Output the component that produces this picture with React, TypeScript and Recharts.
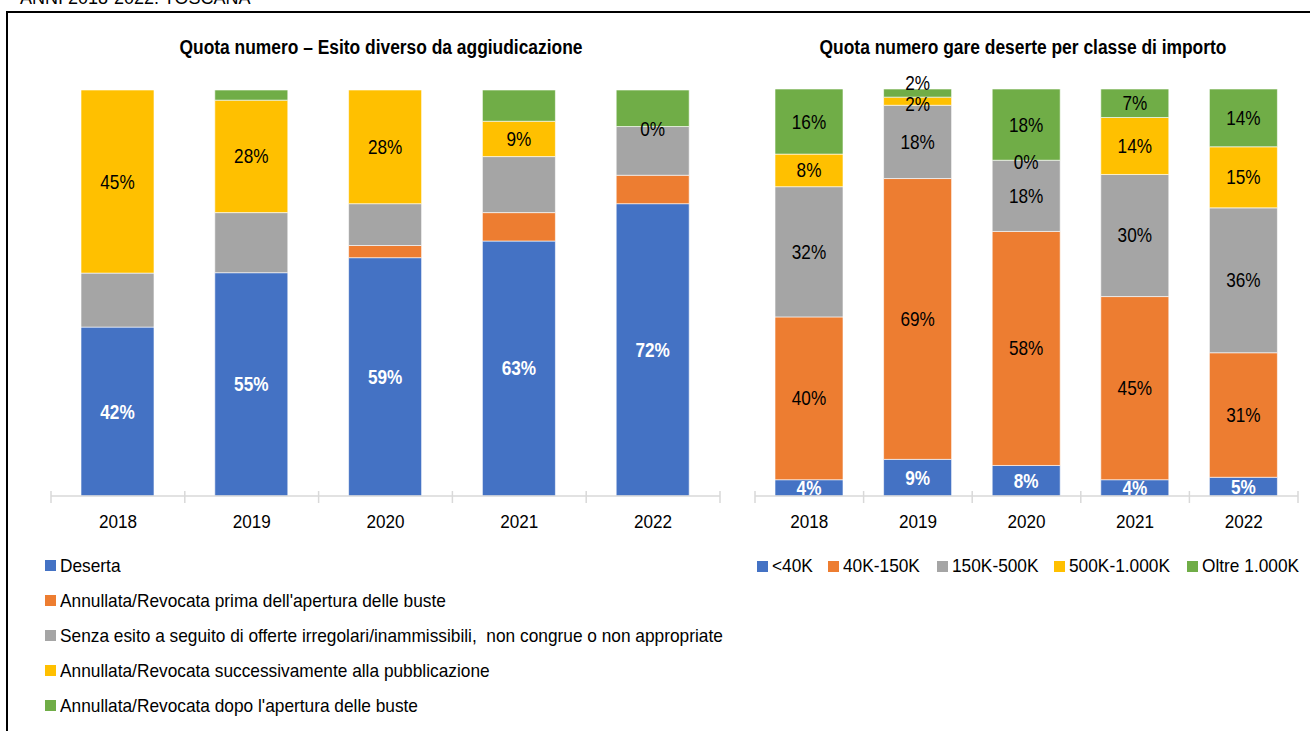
import React from 'react';
import { BarChart, Bar, XAxis, YAxis, LabelList } from 'recharts';

// categories
const years = ['2018', '2019', '2020', '2021', '2022'];

// left chart: quota numero, esito diverso da aggiudicazione (%)
const deserta = [41.6, 55, 58.7, 62.8, 72];
const primaApertura = [0, 0, 3, 7, 7];
const senzaEsito = [13.3, 14.8, 10.3, 13.8, 12];
const successivamente = [45.1, 27.7, 28, 8.7, 0];
const dopoApertura = [0, 2.5, 0, 7.7, 9];

// right chart: quota gare deserte per classe di importo (%)
const fino40 = [4, 9, 7.5, 4, 4.6];
const da40a150 = [40, 69, 57.5, 45, 30.6];
const da150a500 = [32, 18, 17.5, 30, 35.6];
const da500a1000 = [8, 2, 0, 14, 15];
const oltre1000 = [16, 2, 17.5, 7, 14.2];

const BLUE = '#4472C4';
const ORANGE = '#ED7D31';
const GREY = '#A5A5A5';
const YELLOW = '#FFC000';
const GREEN = '#70AD47';

// no Arial Narrow here, so squeeze Liberation Sans horizontally
const FONT = '"Liberation Sans", Arial, sans-serif';

type Series = { key: string; name: string; color: string; label: string | null; values: number[] };

const leftSeries: Series[] = [
  { key: 'deserta', name: 'Deserta', color: BLUE, label: 'white', values: deserta },
  { key: 'prima', name: "Annullata/Revocata prima dell'apertura delle buste", color: ORANGE, label: null, values: primaApertura },
  { key: 'senza', name: 'Senza esito a seguito di offerte irregolari/inammissibili,  non congrue o non appropriate', color: GREY, label: null, values: senzaEsito },
  { key: 'succ', name: 'Annullata/Revocata successivamente alla pubblicazione', color: YELLOW, label: 'black', values: successivamente },
  { key: 'dopo', name: "Annullata/Revocata dopo l'apertura delle buste", color: GREEN, label: null, values: dopoApertura },
];

const rightSeries: Series[] = [
  { key: 'k40', name: '<40K', color: BLUE, label: 'white', values: fino40 },
  { key: 'k150', name: '40K-150K', color: ORANGE, label: 'black', values: da40a150 },
  { key: 'k500', name: '150K-500K', color: GREY, label: 'black', values: da150a500 },
  { key: 'k1000', name: '500K-1.000K', color: YELLOW, label: 'black', values: da500a1000 },
  { key: 'oltre', name: 'Oltre 1.000K', color: GREEN, label: 'black', values: oltre1000 },
];
// left edge of each legend swatch in the right chart legend
const rightLegendX = [757, 828, 937, 1054, 1187];

const toRows = (series: Series[]) =>
  years.map((y, i) => {
    const row: any = { year: y };
    series.forEach((s) => (row[s.key] = s.values[i]));
    return row;
  });

const leftData = toRows(leftSeries);
const rightData = toRows(rightSeries);

const NarrowText = ({ x, y, sx, size, bold, fill, children }: any) => (
  <text
    transform={`translate(${x},${y}) scale(${sx},1)`}
    textAnchor="middle"
    dominantBaseline="central"
    fill={fill}
    fontFamily={FONT}
    fontSize={size}
    fontWeight={bold ? 700 : 400}
  >
    {children}
  </text>
);

// label for a segment; zero-height segments are labelled by the series above,
// otherwise the next bar would paint over the "0%"
// (LabelList value is the year, since zero bars are skipped and index shifts)
const makeLabel = (series: Series[], idx: number, nudge: number) => (props: any) => {
  const { x, y, width, height, value } = props;
  const yi = years.indexOf(String(value));
  if (yi < 0) return null;
  const own = series[idx];
  const below = series[idx - 1];
  const parts: React.ReactNode[] = [];
  if (own.label && own.values[yi] !== 0) {
    let dy = 0;
    if (nudge && height > 0 && height < 14) dy = nudge; // tiny segments: push label off
    parts.push(
      <NarrowText key="o" x={x + width / 2} y={y + height / 2 + dy} sx={0.86} size={20} bold={own.label === 'white'} fill={own.label}>
        {Math.round(own.values[yi]) + '%'}
      </NarrowText>
    );
  }
  if (below && below.label && below.values[yi] === 0) {
    parts.push(
      <NarrowText key="b" x={x + width / 2} y={y + height + 2} sx={0.86} size={20} fill={below.label}>
        0%
      </NarrowText>
    );
  }
  return <g>{parts}</g>;
};

const makeTick = (band: number, count: number) => (props: any) => {
  const { x, y, payload, index } = props;
  return (
    <g>
      <line x1={x - band / 2} x2={x - band / 2} y1={y - 5} y2={y + 7} stroke="#d9d9d9" strokeWidth={1.5} />
      {index === count - 1 && (
        <line x1={x + band / 2} x2={x + band / 2} y1={y - 5} y2={y + 7} stroke="#d9d9d9" strokeWidth={1.5} />
      )}
      <NarrowText x={x} y={y + 26} sx={0.9} size={19} fill="#000">
        {payload.value}
      </NarrowText>
    </g>
  );
};

const Swatch = ({ color }: { color: string }) => (
  <span style={{ display: 'inline-block', width: 11, height: 11, background: color, marginRight: 4, flex: 'none' }} />
);

const squeeze: React.CSSProperties = { display: 'inline-block', transform: 'scaleX(0.91)', transformOrigin: 'left center', whiteSpace: 'pre' };

const yearOf = (row: any) => row.year;

const App: React.FC = () => {
  const leftMargin = { top: 90, right: 10, bottom: 195, left: 51 };
  const rightMargin = { top: 89, right: 12, bottom: 195, left: 15 };
  const leftBand = (730 - leftMargin.left - leftMargin.right) / years.length;
  const rightBand = (570 - rightMargin.left - rightMargin.right) / years.length;

  return (
    <div style={{ position: 'absolute', left: 0, top: 0, width: 1310, height: 731, overflow: 'hidden', background: '#fff', fontFamily: FONT, color: '#000' }}>
      <div style={{ position: 'absolute', left: 20, top: -12, fontSize: 18, whiteSpace: 'nowrap' }}>
        ANNI 2018-2022. TOSCANA
      </div>
      <div style={{ position: 'absolute', left: 7, top: 11, width: 1303, height: 2, background: '#000' }} />
      <div style={{ position: 'absolute', left: 6, top: 11, width: 2, height: 720, background: '#000' }} />

      <div style={{ position: 'absolute', left: 0, top: 0 }}>
        <BarChart width={730} height={731} data={leftData} margin={leftMargin}>
          <XAxis
            dataKey="year"
            height={40}
            tickSize={0}
            tickMargin={0}
            interval={0}
            axisLine={{ stroke: '#d9d9d9', strokeWidth: 1.5 }}
            tickLine={false}
            tick={makeTick(leftBand, years.length)}
          />
          <YAxis hide domain={[0, 100]} />
          {leftSeries.map((s, i) => (
            <Bar key={s.key} dataKey={s.key} stackId="a" fill={s.color} barSize={73} stroke="#fff" strokeWidth={0.6} isAnimationActive={false}>
              <LabelList dataKey={yearOf} content={makeLabel(leftSeries, i, 0)} />
            </Bar>
          ))}
        </BarChart>
      </div>

      <div style={{ position: 'absolute', left: 740, top: 0 }}>
        <BarChart width={570} height={731} data={rightData} margin={rightMargin}>
          <XAxis
            dataKey="year"
            height={40}
            tickSize={0}
            tickMargin={0}
            interval={0}
            axisLine={{ stroke: '#d9d9d9', strokeWidth: 1.5 }}
            tickLine={false}
            tick={makeTick(rightBand, years.length)}
          />
          <YAxis hide domain={[0, 100]} />
          {rightSeries.map((s, i) => (
            <Bar key={s.key} dataKey={s.key} stackId="a" fill={s.color} barSize={68} stroke="#fff" strokeWidth={0.6} isAnimationActive={false}>
              <LabelList
                dataKey={yearOf}
                content={makeLabel(rightSeries, i, s.key === 'oltre' ? -10 : s.key === 'k1000' ? 3 : 0)}
              />
            </Bar>
          ))}
        </BarChart>
      </div>

      <svg style={{ position: 'absolute', left: 0, top: 0 }} width={1310} height={80}>
        <NarrowText x={381} y={47} sx={0.87} size={20} bold fill="#000">
          Quota numero – Esito diverso da aggiudicazione
        </NarrowText>
        <NarrowText x={1023} y={47} sx={0.87} size={20} bold fill="#000">
          Quota numero gare deserte per classe di importo
        </NarrowText>
      </svg>

      <div style={{ position: 'absolute', left: 45, top: 548 }}>
        {leftSeries.map((s) => (
          <div key={s.key} style={{ height: 35, display: 'flex', alignItems: 'center', fontSize: 19 }}>
            <Swatch color={s.color} />
            <span style={squeeze}>{s.name}</span>
          </div>
        ))}
      </div>

      {rightSeries.map((s, i) => (
        <div key={s.key} style={{ position: 'absolute', left: rightLegendX[i], top: 554, height: 24, display: 'flex', alignItems: 'center', fontSize: 19 }}>
          <Swatch color={s.color} />
          <span style={squeeze}>{s.name}</span>
        </div>
      ))}
    </div>
  );
};

export default App;
